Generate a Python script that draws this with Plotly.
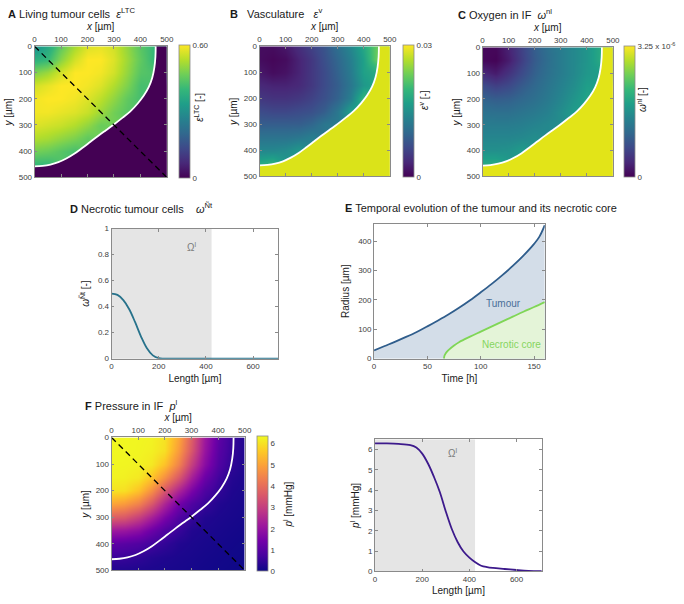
import numpy as np
import plotly.graph_objects as go

W, H = 684, 604
FONT = "Liberation Sans, Arial, sans-serif"

# ---- data ----
grid = [0, 50, 100, 150, 200, 250, 300, 350, 400, 450, 500]  # µm

# tumour front (white contour)
front_x = [458, 457, 453, 445, 432, 413, 390, 362, 333, 300, 270, 240, 210, 180, 150, 120, 90, 60, 30, 0]
front_y = [0, 40, 80, 120, 155, 188, 218, 248, 272, 298, 320, 342, 365, 388, 410, 428, 442, 451, 456, 458]
diag_x = [0, 500]
diag_y = [0, 500]

# A: living tumour cells (rows = y, cols = x)
eps_ltc = [
    [0.30, 0.36, 0.45, 0.52, 0.57, 0.58, 0.56, 0.50, 0.44, 0.40, 0],
    [0.38, 0.40, 0.49, 0.56, 0.60, 0.60, 0.57, 0.51, 0.45, 0.40, 0],
    [0.48, 0.51, 0.56, 0.60, 0.60, 0.59, 0.56, 0.50, 0.44, 0.41, 0],
    [0.56, 0.58, 0.60, 0.60, 0.59, 0.57, 0.53, 0.48, 0.42, 0, 0],
    [0.59, 0.60, 0.60, 0.59, 0.57, 0.54, 0.50, 0.45, 0.42, 0, 0],
    [0.59, 0.59, 0.58, 0.57, 0.55, 0.51, 0.47, 0.44, 0, 0, 0],
    [0.57, 0.56, 0.55, 0.53, 0.50, 0.46, 0, 0, 0, 0, 0],
    [0.53, 0.52, 0.50, 0.48, 0.45, 0, 0, 0, 0, 0, 0],
    [0.47, 0.46, 0.44, 0.42, 0, 0, 0, 0, 0, 0, 0],
    [0.40, 0.40, 0, 0, 0, 0, 0, 0, 0, 0, 0],
    [0, 0, 0, 0, 0, 0, 0, 0, 0, 0, 0],
]

# B: vasculature (x 1e-3)
eps_v = [
    [1, 1, 2, 4, 6, 8, 11, 14, 18, 23, 28],
    [1, 0.5, 1, 3, 5, 7.5, 10, 13, 17, 23, 28],
    [2, 1, 1.5, 3, 5, 7, 9.5, 12.5, 17, 22, 28.5],
    [3.5, 3, 3, 3.5, 5, 7, 9, 12, 16, 28, 29],
    [5, 4.5, 4.5, 5, 6, 7.5, 9.5, 13, 20, 28.5, 29],
    [7, 6.5, 6.5, 7, 7.5, 9, 12, 17, 28, 29, 29],
    [9, 9, 9, 9, 10, 12, 27, 28, 28.5, 29, 29],
    [11.5, 11.5, 11.5, 12, 13, 27, 28, 28.5, 29, 29, 29],
    [14, 14, 14.5, 16, 27.5, 28, 28.5, 29, 29, 29, 29],
    [18, 19, 27.5, 28, 28, 28.5, 29, 29, 29, 29, 29],
    [28, 28, 28, 28.5, 28.5, 29, 29, 29, 29, 29, 29],
]

# C: oxygen in IF (fraction of 3.25e-6)
omega_nl = [
    [.02, .02, .10, .20, .30, .37, .42, .47, .52, .60, .95],
    [.02, .01, .08, .19, .29, .36, .42, .47, .52, .60, .96],
    [.12, .08, .15, .23, .31, .37, .42, .47, .53, .58, .97],
    [.24, .20, .23, .29, .34, .39, .44, .49, .56, .96, .98],
    [.32, .30, .31, .34, .37, .41, .46, .52, .58, .97, .98],
    [.38, .37, .37, .39, .41, .44, .49, .55, .96, .97, .98],
    [.42, .42, .42, .43, .45, .47, .93, .95, .97, .98, .99],
    [.46, .46, .46, .47, .49, .92, .94, .96, .97, .98, .99],
    [.50, .50, .51, .55, .93, .94, .96, .97, .98, .99, .99],
    [.60, .60, .94, .95, .96, .97, .97, .98, .99, .99, 1.0],
    [.95, .95, .96, .96, .97, .97, .98, .99, .99, 1.0, 1.0],
]

# F: pressure in IF [mmHg]
p_if = [
    [6.30, 6.30, 6.28, 6.24, 6.00, 5.05, 3.65, 2.15, 1.10, 0.55, 0.24],
    [6.30, 6.30, 6.27, 6.20, 5.95, 4.85, 3.50, 2.05, 1.00, 0.52, 0.23],
    [6.28, 6.27, 6.23, 6.08, 5.50, 4.40, 3.00, 1.80, 0.88, 0.43, 0.21],
    [6.24, 6.20, 6.08, 5.55, 4.65, 3.55, 2.30, 1.30, 0.65, 0.30, 0.19],
    [6.00, 5.95, 5.50, 4.65, 3.50, 2.45, 1.55, 0.85, 0.46, 0.23, 0.16],
    [5.05, 4.85, 4.40, 3.55, 2.45, 1.45, 0.88, 0.53, 0.26, 0.18, 0.14],
    [3.65, 3.50, 3.00, 2.30, 1.55, 0.88, 0.50, 0.26, 0.19, 0.15, 0.11],
    [2.15, 2.05, 1.80, 1.30, 0.85, 0.53, 0.26, 0.19, 0.15, 0.11, 0.08],
    [1.10, 1.00, 0.88, 0.65, 0.46, 0.26, 0.19, 0.15, 0.11, 0.08, 0.05],
    [0.55, 0.52, 0.43, 0.30, 0.23, 0.18, 0.15, 0.11, 0.08, 0.05, 0.03],
    [0.24, 0.23, 0.21, 0.19, 0.16, 0.14, 0.11, 0.08, 0.05, 0.03, 0.01],
]

# D: necrotic cells along the diagonal
nec_len = [0, 25, 50, 75, 100, 125, 150, 175, 200, 225, 400, 707]
nec_val = [0.50, 0.49, 0.45, 0.38, 0.28, 0.17, 0.08, 0.025, 0.003, 0, 0, 0]
omega_edge = 424  # µm, end of the tumour along the diagonal

# E: radius over time
t_tum = [0, 10, 20, 30, 40, 50, 60, 70, 80, 90, 100, 110, 120, 130, 140, 150, 155, 160]
r_tum = [28, 43, 58, 74, 91, 110, 130, 151, 174, 199, 226, 254, 284, 316, 351, 391, 416, 455]
t_nec = [65.5, 66, 67, 68, 70, 75, 80, 90, 100, 110, 120, 130, 140, 150, 160]
r_nec = [0, 10, 17, 22, 30, 45, 57, 75, 92, 109, 126, 143, 160, 176, 193]

# bottom right: pressure along the diagonal
p_len = [0, 50, 100, 150, 175, 200, 225, 250, 275, 300, 325, 350, 375, 400, 425, 450, 475, 500, 550, 600, 650, 707]
p_val = [6.3, 6.3, 6.28, 6.22, 6.1, 5.8, 5.3, 4.65, 3.9, 2.95, 2.1, 1.45, 0.98, 0.68, 0.45, 0.28, 0.21, 0.17, 0.12, 0.07, 0.03, 0.01]

# colour of the region outside the front (A is exactly 0)
outside_col = {"": "#440154", "2": "#dbe319", "3": "#e2e418"}


def dx(px):
    return px / W


def dy(px):
    return 1 - px / H


def outside(x, y):
    if y > front_y[-1]:
        return True
    return x > np.interp(y, front_y, front_x)


def pad_edge(z):
    # cells just outside the front take the mean of their inside neighbours,
    # so the smoothing stays sharp; the outside itself is painted by the mask
    z = np.array(z, float)
    out = z.copy()
    n = len(grid)
    ins = np.array([[not outside(grid[j], grid[i]) for j in range(n)] for i in range(n)])
    for i in range(n):
        for j in range(n):
            if not ins[i, j]:
                sl = (slice(max(i - 1, 0), i + 2), slice(max(j - 1, 0), j + 2))
                vals = z[sl][ins[sl]]
                if vals.size:
                    out[i, j] = vals.mean()
    return out


def cbar(left, top, bottom, tickvals, ticktext):
    return dict(x=dx(left), xanchor="left", xpad=0, y=dy((top + bottom) / 2), yanchor="middle", ypad=0,
                len=bottom - top, lenmode="pixels", thickness=11, thicknessmode="pixels",
                outlinewidth=0.8, outlinecolor="#8a8a8a", tickvals=tickvals, ticktext=ticktext,
                ticks="", tickfont=dict(size=8, color="#404040", family=FONT))


def box_axis(**kw):
    d = dict(showline=True, mirror="ticks", linecolor="#8a8a8a", linewidth=0.8,
             ticks="inside", ticklen=3, tickcolor="#8a8a8a", tickwidth=0.8,
             showgrid=False, zeroline=False,
             tickfont=dict(size=8, color="#404040", family=FONT),
             title_font=dict(size=10, color="#1a1a1a", family=FONT))
    d.update(kw)
    return d


fig = go.Figure()

maps = [
    ("", pad_edge(eps_ltc), "Viridis", 0, 0.6, cbar(179, 43, 176, [0, 0.6], ["0", "0.60"])),
    ("2", pad_edge(eps_v) * 1e-3, "Viridis", 0, 0.03, cbar(406, 43, 175, [0, 0.03], ["0", "0.03"])),
    ("3", pad_edge(omega_nl) * 3.25e-6, "Viridis", 0, 3.25e-6,
     cbar(630, 44, 175, [0, 3.25e-6], ["0", "3.25 x 10<sup>-6</sup>"])),
    ("6", np.array(p_if), "Plasma", 0, 6.33, cbar(258, 440, 575, [0, 1, 2, 3, 4, 5, 6], [str(v) for v in range(7)])),
]
for ax, z, cs, lo, hi, cb in maps:
    fig.add_trace(go.Heatmap(x=grid, y=grid, z=z, colorscale=cs, zmin=lo, zmax=hi, zsmooth="best",
                             colorbar=cb, xaxis="x" + ax, yaxis="y" + ax, hoverinfo="skip"))

mask_x = front_x + [0, 500, 500]
mask_y = front_y + [500, 500, 0]
for ax, col in outside_col.items():
    fig.add_trace(go.Scatter(x=mask_x, y=mask_y, fill="toself", fillcolor=col, mode="none",
                             xaxis="x" + ax, yaxis="y" + ax, showlegend=False, hoverinfo="skip"))

for ax in ["", "2", "3", "6"]:
    fig.add_trace(go.Scatter(x=front_x, y=front_y, mode="lines", line=dict(color="white", width=1.8, shape="spline"),
                             xaxis="x" + ax, yaxis="y" + ax, showlegend=False, hoverinfo="skip"))
for ax in ["", "6"]:
    fig.add_trace(go.Scatter(x=diag_x, y=diag_y, mode="lines", line=dict(color="black", width=1.3, dash="6px,4px"),
                             xaxis="x" + ax, yaxis="y" + ax, showlegend=False, hoverinfo="skip", cliponaxis=False))

# D
fig.add_trace(go.Scatter(x=nec_len, y=nec_val, mode="lines", line=dict(color="#27728b", width=1.8, shape="spline"),
                         xaxis="x4", yaxis="y4", showlegend=False))
# E
fig.add_trace(go.Scatter(x=t_tum, y=r_tum, mode="lines", fill="tozeroy", fillcolor="#d3dde8",
                         line=dict(color="#2f5d8c", width=1.8, shape="spline"), xaxis="x5", yaxis="y5", showlegend=False))
fig.add_trace(go.Scatter(x=t_nec, y=r_nec, mode="lines", fill="tozeroy", fillcolor="#e4f4d8",
                         line=dict(color="#7fd656", width=1.8, shape="spline"), xaxis="x5", yaxis="y5", showlegend=False))
# bottom right
fig.add_trace(go.Scatter(x=p_len, y=p_val, mode="lines", line=dict(color="#3d1a8c", width=1.8, shape="spline"),
                         xaxis="x7", yaxis="y7", showlegend=False))

hm_ticks = [0, 100, 200, 300, 400, 500]
layout = dict(width=W, height=H, margin=dict(l=0, r=0, t=0, b=0), paper_bgcolor="white", plot_bgcolor="white",
              font=dict(family=FONT, color="#1a1a1a"), showlegend=False)

boxes = {
    "": (33, 167, 43, 176),
    "2": (261, 393, 43, 175),
    "3": (487, 619, 44, 175),
    "6": (111, 246, 440, 575),
}
for ax, (l, r, t, b) in boxes.items():
    layout["xaxis" + ax] = box_axis(domain=[dx(l), dx(r)], range=[0, 500], side="top", tickvals=hm_ticks,
                                    title=dict(text="<i>x</i> [µm]", standoff=2), anchor="y" + ax)
    layout["yaxis" + ax] = box_axis(domain=[dy(b), dy(t)], range=[500, 0], tickvals=hm_ticks,
                                    title=dict(text="<i>y</i> [µm]", standoff=4), anchor="x" + ax)

layout["xaxis4"] = box_axis(domain=[dx(111), dx(280)], range=[0, 707], tickvals=[0, 200, 400, 600],
                            title=dict(text="Length [µm]", standoff=4), anchor="y4")
layout["yaxis4"] = box_axis(domain=[dy(360), dy(228)], range=[0, 1], tickvals=[0, 0.2, 0.4, 0.6, 0.8, 1],
                            ticktext=["0", "0.2", "0.4", "0.6", "0.8", "1"],
                            title=dict(text="<i>ω</i><sup>Ñt</sup> [-]", standoff=6), anchor="x4")
layout["xaxis5"] = box_axis(domain=[dx(377), dx(550)], range=[0, 160], tickvals=[0, 50, 100, 150],
                            title=dict(text="Time [h]", standoff=4), anchor="y5")
layout["yaxis5"] = box_axis(domain=[dy(360), dy(223)], range=[0, 460], tickvals=[0, 100, 200, 300, 400],
                            title=dict(text="Radius [µm]", standoff=6), anchor="x5")
layout["xaxis7"] = box_axis(domain=[dx(378), dx(547)], range=[0, 707], tickvals=[0, 200, 400, 600],
                            title=dict(text="Length [µm]", standoff=4), anchor="y7")
layout["yaxis7"] = box_axis(domain=[dy(576), dy(442)], range=[0, 6.5], tickvals=[0, 1, 2, 3, 4, 5, 6],
                            title=dict(text="<i>p</i><sup>l</sup> [mmHg]", standoff=6), anchor="x7")

layout["shapes"] = [
    dict(type="rect", xref="x4", yref="y4 domain", x0=0, x1=omega_edge, y0=0, y1=1,
         fillcolor="#e5e5e5", line=dict(width=0), layer="below"),
    dict(type="rect", xref="x7", yref="y7 domain", x0=0, x1=omega_edge, y0=0, y1=1,
         fillcolor="#e5e5e5", line=dict(width=0), layer="below"),
]


def note(text, x, y, size=11, color="#1a1a1a", angle=0, xanchor="left"):
    return dict(text=text, x=dx(x), y=dy(y), xref="paper", yref="paper", showarrow=False,
                xanchor=xanchor, yanchor="middle", textangle=angle,
                font=dict(size=size, color=color, family=FONT))


layout["annotations"] = [
    note("<b>A</b> Living tumour cells  <i>ε</i><sup>LTC</sup>", 4, 9),
    note("<b>B</b>   Vasculature   <i>ε</i><sup>v</sup>", 229, 9),
    note("<b>C</b> Oxygen in IF  <i>ω</i><sup>nl</sup>", 460, 10),
    note("<b>D</b> Necrotic tumour cells    <i>ω</i><sup>Ñt</sup>", 67, 207),
    note("<b>E</b> Temporal evolution of the tumour and its necrotic core", 346, 207),
    note("<b>F</b> Pressure in IF  <i>p</i><sup>l</sup>", 82, 407),
    note("<i>ε</i><sup>LTC</sup> [-]", 200, 105, size=10, angle=-90, xanchor="center"),
    note("<i>ε</i><sup>v</sup> [-]", 427, 97, size=10, angle=-90, xanchor="center"),
    note("<i>ω</i><sup>nl</sup> [-]", 648, 97, size=10, angle=-90, xanchor="center"),
    note("<i>p</i><sup>l</sup> [mmHg]", 290, 508, size=10, angle=-90, xanchor="center"),
    dict(text="Ω<sup>l</sup>", x=339, y=0.92, xref="x4", yref="y4 domain", showarrow=False,
         font=dict(size=10, color="#7a7a7a", family=FONT)),
    dict(text="Ω<sup>l</sup>", x=330, y=0.96, xref="x7", yref="y7 domain", showarrow=False,
         font=dict(size=10, color="#7a7a7a", family=FONT)),
    dict(text="Tumour", x=121, y=188, xref="x5", yref="y5", showarrow=False,
         font=dict(size=10, color="#4a6f99", family=FONT)),
    dict(text="Necrotic core", x=128.5, y=47, xref="x5", yref="y5", showarrow=False,
         font=dict(size=10, color="#86d45f", family=FONT)),
]

fig.update_layout(**layout)
fig.write_html("out.html", config={"displayModeBar": False},
               post_script="document.body.style.margin = '0';")
